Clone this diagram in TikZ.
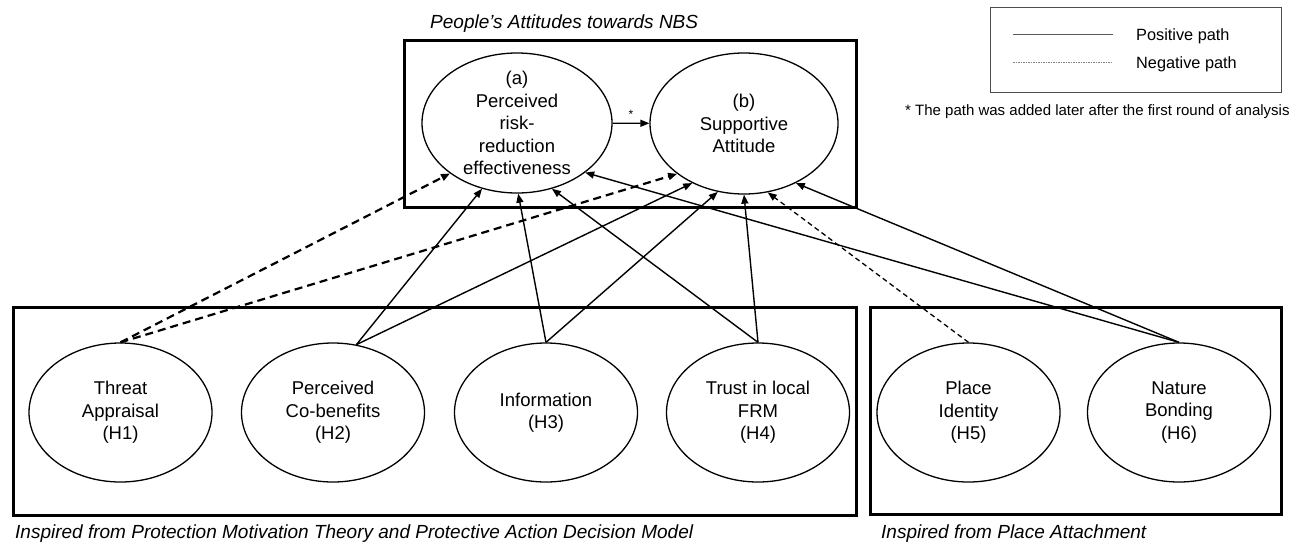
\documentclass[tikz,border=0pt]{standalone}
\usepackage{fontspec}
\setmainfont{Liberation Sans}
\usetikzlibrary{shapes.geometric,arrows.meta}

\begin{document}
\begin{tikzpicture}
  [x=1pt,y=-1pt,every node/.style={font=\fontsize{18.5}{22.5}\selectfont},
   latent/.style={ellipse,draw,line width=1.3pt,minimum width=183pt,minimum height=139pt,inner sep=0pt},
   txt/.style={align=center,inner sep=0pt},
   grp/.style={draw,line width=3pt},
   posline/.style={line width=1.4pt,-{Triangle[length=9pt,width=7pt]}},
   negline/.style={posline,line width=2.2pt,dash pattern=on 8pt off 5pt},
   negthin/.style={posline,line width=1.3pt,dash pattern=on 5pt off 3.5pt},
   capt/.style={anchor=base west,inner sep=0pt,font=\itshape\fontsize{19}{22}\selectfont},
   leg/.style={anchor=base west,inner sep=0pt,font=\fontsize{16.3}{18}\selectfont}]
  \useasboundingbox (0,0) rectangle (1293,547);

  \node[capt] (ttl) at (430,28) {People’s Attitudes towards NBS};
  \draw[grp] (404,40) rectangle (856,207);
  \node[latent,minimum width=190pt,minimum height=140pt,
    label={[txt]center:{(a)\\Perceived\\risk-\\reduction\\effectiveness}}] (a) at (517,123) {};
  \node[latent,minimum width=188pt,minimum height=141pt,
    label={[txt]center:{(b)\\Supportive\\Attitude}}] (b) at (744,123.5) {};

  \draw[grp] (13.5,307.5) rectangle (856.5,515.5);
  \draw[grp] (870.5,307.5) rectangle (1281.5,514);
  \node[latent,label={[txt]center:{Threat\\Appraisal\\(H1)}}] (h1) at (120.5,412.5) {};
  \node[latent,label={[txt]center:{Perceived\\Co-benefits\\(H2)}}] (h2) at (333,412.5) {};
  \node[latent,label={[txt]center:{Information\\(H3)}}] (h3) at (546,412.5) {};
  \node[latent,label={[txt]center:{Trust in local\\FRM\\(H4)}}] (h4) at (758,412.5) {};
  \node[latent,label={[txt]center:{Place\\Identity\\(H5)}}] (h5) at (968.5,412.5) {};
  \node[latent,label={[txt]center:{Nature\\Bonding\\(H6)}}] (h6) at (1179,412.5) {};
  \node[capt] (pmt) at (15,538) {Inspired from Protection Motivation Theory and Protective Action Decision Model};
  \node[capt] (pa) at (881,538) {Inspired from Place Attachment};

  \foreach \from/\to in {h1.north/a.-143,h1.north/b.-143}
    \draw[negline] (\from) -- (\to);
  \foreach \from/\to in {h2.71/a.-118,h2.71/b.-131,h3.north/a.-89,h3.north/b.-111,
                         h4.north/a.-62,h4.north/b.-90,h6.north/a.-36,h6.north/b.-49}
    \draw[posline] (\from) -- (\to);
  \draw[negthin] (h5.north) -- (b.-71);
  \draw[posline] (a) -- node[above,inner sep=4pt,font=\fontsize{12}{12}\selectfont] (star) {*} (b);

  \draw[gray!60!black,line width=1pt] (990.5,7.5) rectangle (1281.5,92.5);
  \coordinate (p1) at (1013,34);
  \coordinate (p2) at (1113,34);
  \coordinate (n1) at (1013,62);
  \coordinate (n2) at (1113,62);
  \draw[gray!70!black,line width=1pt] (p1) -- (p2);
  \draw[gray,line width=1pt,dash pattern=on 1.5pt off 1pt] (n1) -- (n2);
  \node[leg] (ptxt) at (1136,40) {Positive path};
  \node[leg] (ntxt) at (1136,68) {Negative path};
  \node[anchor=base west,inner sep=0pt,font=\fontsize{15}{18}\selectfont] (nt) at (905,115)
    {* The path was added later after the first round of analysis};

\end{tikzpicture}
\end{document}
